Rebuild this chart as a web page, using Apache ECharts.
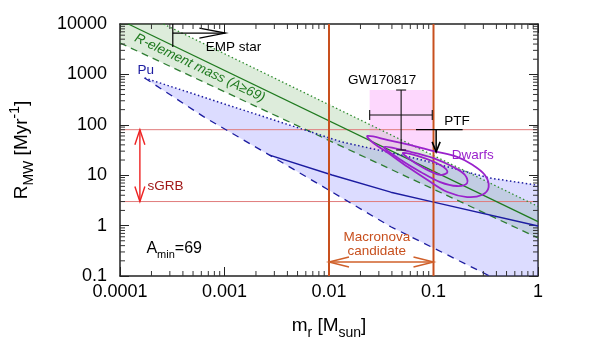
<!DOCTYPE html>
<html><head><meta charset="utf-8">
<script src="https://cdn.jsdelivr.net/npm/echarts@6/dist/echarts.min.js"></script>
<style>html,body{margin:0;padding:0;background:#fff}#c{width:600px;height:360px}</style>
</head><body><div id="c"></div>
<script>
// ---- axis values ----
const xMin = 1e-4, xMax = 1, yMin = 0.1, yMax = 1e4;
const xTickValues = [0.0001, 0.001, 0.01, 0.1, 1];
const xTickLabels = ['0.0001', '0.001', '0.01', '0.1', '1'];
const yTickValues = [0.1, 1, 10, 100, 1000, 10000];
const yTickLabels = ['0.1', '1', '10', '100', '1000', '10000'];

// ---- r-element mass band (A>=69) [mass, rate] ----
const rElemUpper = [[2.6e-4, 10000], [1, 2.4]];
const rElemCenter = [[1.2e-4, 10000], [1, 1.2]];
const rElemLower = [[1e-4, 4200], [1, 0.57]];

// ---- Pu band ----
const puUpper = [[1.72e-4, 850], [1.5e-3, 197], [0.0133, 45.6], [0.065, 22], [0.345, 8.8], [1, 6.3]];
const puLower = [[1.72e-4, 850], [6.3e-4, 145], [2.7e-3, 25], [0.0099, 5.1], [0.039, 0.95], [0.345, 0.1]];
const puMid = [[0.0027, 25], [0.0107, 10.1], [0.039, 4.6], [0.098, 2.95], [1, 0.98]];

// ---- constraints ----
const sgrbRate = [3, 80];
const macronovaMass = [0.01, 0.1];
const gwMass = [0.0245, 0.049, 0.0973];
const gwRate = [31.6, 156, 490];
const ptfMass = [0.068, 0.106, 0.19];
const ptfRate = [80, 29];
const empMass = [3.2e-4, 1.02e-3];
const empRate = [10000, 6600, 3500];

// ---- dwarf galaxy contours ----
const dwarfsOuter = [[0.0233,60],[0.0368,49.9],[0.0607,39.7],[0.100,30.2],[0.168,23.0],[0.238,15.9],[0.310,10.1],[0.337,5.83],[0.290,4.05],[0.210,3.69],[0.136,4.64],[0.0877,8.03],[0.0569,14.5],[0.0368,27.6],[0.0266,43.5]];
const dwarfsMid = [[0.0337,36.3],[0.0607,28.9],[0.100,21.9],[0.155,14.5],[0.200,10.1],[0.210,7.0],[0.168,6.1],[0.116,7.3],[0.0753,11.6],[0.0489,20.0]];
const dwarfsInner = [[0.0511,27.6],[0.0753,23.0],[0.116,15.9],[0.136,11.6],[0.116,10.1],[0.0805,13.9],[0.0569,21.9]];

const FONT = '"Liberation Sans", Arial, Helvetica, sans-serif';
const GREEN = '#1f7a1f', BLUE = '#1c1ca0', ORANGE = '#c8501e', PURPLE = '#9a22cc';

function labelFor(vals, labels) {
  return v => {
    const i = vals.findIndex(t => Math.abs(Math.log10(t) - Math.log10(v)) < 1e-6);
    return i >= 0 ? labels[i] : '';
  };
}

function layer(z, render) {
  return { type: 'custom', coordinateSystem: 'cartesian2d', data: [[0.01, 1]], silent: true, z: z,
    renderItem: (p, api) => render(api) };
}
function L(a, b, color, w, dash) {
  return { type: 'line', shape: { x1: a[0], y1: a[1], x2: b[0], y2: b[1] },
    style: { stroke: color, lineWidth: w, lineDash: dash || null } };
}
function head(tip, from, len, hw, color, w) {
  const dx = tip[0] - from[0], dy = tip[1] - from[1], d = Math.hypot(dx, dy), ux = dx / d, uy = dy / d;
  const bx = tip[0] - ux * len, by = tip[1] - uy * len;
  return { type: 'polyline', shape: { points: [[bx - uy * hw, by + ux * hw], tip, [bx + uy * hw, by - ux * hw]] },
    style: { stroke: color, lineWidth: w, fill: null } };
}
function T(s, pos, color, size, extra, rot) {
  return { type: 'text', x: pos[0], y: pos[1], rotation: rot || 0,
    style: Object.assign({ text: s, fill: color, fontSize: size, fontFamily: FONT, align: 'center', verticalAlign: 'middle' }, extra || {}) };
}

const bandsLayer = layer(1, api => {
  const P = v => api.coord(v);
  const green = [[xMin, yMax]].concat(rElemUpper, rElemLower.slice().reverse()).map(P);
  const blue = puUpper.concat([[xMax, yMin]], puLower.slice().reverse()).map(P);
  const g0 = P([gwMass[0], gwRate[0]]), g1 = P([gwMass[2], gwRate[2]]);
  return { type: 'group', children: [
    { type: 'polygon', shape: { points: green }, style: { fill: 'rgba(100,170,90,0.22)' } },
    { type: 'polygon', shape: { points: blue }, style: { fill: 'rgba(110,110,255,0.24)' } },
    { type: 'rect', shape: { x: g0[0], y: g1[1], width: g1[0] - g0[0], height: g0[1] - g1[1] }, style: { fill: 'rgba(250,160,250,0.42)' } }
  ] };
});

const contourLayer = layer(6, api => {
  const P = v => api.coord(v);
  const mk = arr => ({ type: 'polygon', shape: { points: arr.map(P), smooth: 0.35 }, style: { fill: null, stroke: PURPLE, lineWidth: 1.8 } });
  return { type: 'group', children: [mk(dwarfsOuter), mk(dwarfsMid), mk(dwarfsInner)] };
});

const ticksLayer = layer(8, api => {
  const bl = api.coord([xMin, yMin]), tr = api.coord([xMax, yMax]);
  const ch = [];
  for (let k = -4; k < 0; k++) for (let j = 2; j <= 9; j++) {
    const x = api.coord([j * Math.pow(10, k), 1])[0];
    ch.push(L([x, bl[1]], [x, bl[1] - 5], '#333', 1));
    ch.push(L([x, tr[1]], [x, tr[1] + 5], '#333', 1));
  }
  for (let k = -1; k < 4; k++) for (let j = 2; j <= 9; j++) {
    const y = api.coord([1e-2, j * Math.pow(10, k)])[1];
    ch.push(L([bl[0], y], [bl[0] + 5, y], '#333', 1));
    ch.push(L([tr[0], y], [tr[0] - 5, y], '#333', 1));
  }
  return { type: 'group', children: ch };
});

const annoLayer = layer(7, api => {
  const P = v => api.coord(v);
  const ch = [];
  // sGRB double arrow
  const sg0 = P([1.55e-4, sgrbRate[0]]), sg1 = P([1.55e-4, sgrbRate[1]]);
  ch.push(L(sg0, sg1, '#ee2222', 1.4));
  ch.push(head(sg0, sg1, 15, 5, '#ee2222', 1.4));
  ch.push(head(sg1, sg0, 15, 5, '#ee2222', 1.4));
  // Macronova double arrow
  const mn0 = P([macronovaMass[0], 0.19]), mn1 = P([macronovaMass[1], 0.19]);
  ch.push(L(mn0, mn1, '#d0602a', 1.5));
  ch.push(head(mn0, mn1, 20, 5, '#d0602a', 1.5));
  ch.push(head(mn1, mn0, 20, 5, '#d0602a', 1.5));
  // EMP star limit
  const e0 = P([empMass[0], empRate[0]]), e1 = P([empMass[0], empRate[2]]);
  ch.push(L(e0, e1, '#000', 1.2));
  const ea = P([empMass[0], empRate[1]]), eb = P([empMass[1], empRate[1]]);
  ch.push(L(ea, eb, '#000', 1.3));
  ch.push(head(eb, ea, 26, 5, '#000', 1.3));
  // GW170817 error bars
  const gh0 = P([gwMass[0], gwRate[1]]), gh1 = P([gwMass[2], gwRate[1]]);
  const gv0 = P([gwMass[1], gwRate[0]]), gv1 = P([gwMass[1], gwRate[2]]);
  ch.push(L(gh0, gh1, '#111', 1.1));
  ch.push(L([gh0[0], gh0[1] - 5], [gh0[0], gh0[1] + 5], '#111', 1.1));
  ch.push(L([gh1[0], gh1[1] - 5], [gh1[0], gh1[1] + 5], '#111', 1.1));
  ch.push(L(gv0, gv1, '#111', 1.1));
  ch.push(L([gv0[0] - 5, gv0[1]], [gv0[0] + 5, gv0[1]], '#111', 1.1));
  ch.push(L([gv1[0] - 5, gv1[1]], [gv1[0] + 5, gv1[1]], '#111', 1.1));
  // PTF upper limit
  const p0 = P([ptfMass[0], ptfRate[0]]), p1 = P([ptfMass[2], ptfRate[0]]);
  ch.push(L(p0, p1, '#000', 1.3));
  const pa = P([ptfMass[1], ptfRate[0]]), pb = P([ptfMass[1], ptfRate[1]]);
  ch.push(L(pa, pb, '#000', 1.5));
  ch.push(head(pb, pa, 10, 4, '#000', 1.6));
  // texts
  ch.push(T('EMP star', P([1.22e-3, 3500]), '#000', 13.5));
  ch.push(T('GW170817', P([0.0323, 774]), '#000', 13.5));
  ch.push(T('PTF', P([0.168, 119]), '#000', 13.5));
  ch.push(T('Dwarfs', P([0.238, 25.2]), PURPLE, 13.5));
  ch.push(T('sGRB', P([2.72e-4, 5.97]), '#a01818', 13.5));
  ch.push(T('Macronova', P([0.0287, 0.594]), ORANGE, 13.5));
  ch.push(T('candidate', P([0.0287, 0.313]), ORANGE, 13.5));
  ch.push(T('Pu', P([1.76e-4, 1222]), BLUE, 13.5));
  ch.push(T('R-element mass (A\u226569)', P([5.8e-4, 1340]), GREEN, 13.5, { fontStyle: 'italic' }, -0.443));
  ch.push(T('{n|A}{s|min}{n|=69}', P([3.3e-4, 0.344]), '#000', 16, {
    rich: { n: { fontSize: 16, fontFamily: FONT, fill: '#000', lineHeight: 24, verticalAlign: 'middle' },
            s: { fontSize: 11, fontFamily: FONT, fill: '#000', lineHeight: 24, verticalAlign: 'bottom' } } }));
  return { type: 'group', children: ch };
});

function lineS(data, color, width, type, z) {
  return { type: 'line', data: data, symbol: 'none', silent: true, z: z || 3,
    lineStyle: { color: color, width: width, type: type || 'solid' } };
}

const richName = {
  n: { fontSize: 19, fontFamily: FONT, color: '#000', lineHeight: 28, verticalAlign: 'middle' },
  s: { fontSize: 14, fontFamily: FONT, color: '#000', lineHeight: 28, verticalAlign: 'bottom' },
  u: { fontSize: 14, fontFamily: FONT, color: '#000', lineHeight: 28, verticalAlign: 'top' }
};

const axisCommon = {
  type: 'log', logBase: 10,
  axisLine: { show: true, lineStyle: { color: '#222', width: 1.5 } },
  axisTick: { show: true, inside: true, length: 9, lineStyle: { color: '#222', width: 1 } },
  splitLine: { show: false }, minorTick: { show: false }
};

const chart = echarts.init(document.getElementById('c'), null, { renderer: 'canvas' });
chart.setOption({
  animation: false,
  backgroundColor: '#fff',
  grid: { left: 115, right: 62, top: 24, bottom: 84 },
  xAxis: [
    Object.assign({}, axisCommon, { min: xMin, max: xMax, position: 'bottom',
      axisLabel: { formatter: labelFor(xTickValues, xTickLabels), fontSize: 18, fontFamily: FONT, color: '#000', margin: 7 },
      name: '{n|m}{s|r}{n| [M}{s|sun}{n|]}', nameLocation: 'middle', nameGap: 36, nameTextStyle: { rich: richName } }),
    Object.assign({}, axisCommon, { min: xMin, max: xMax, position: 'top', axisLabel: { show: false } })
  ],
  yAxis: [
    Object.assign({}, axisCommon, { min: yMin, max: yMax, position: 'left',
      axisLabel: { formatter: labelFor(yTickValues, yTickLabels), fontSize: 18, fontFamily: FONT, color: '#000', margin: 13 },
      name: '{n|R}{s|MW}{n| [Myr}{u|-1}{n|]}', nameLocation: 'middle', nameGap: 84, nameRotate: 90, nameTextStyle: { rich: richName } }),
    Object.assign({}, axisCommon, { min: yMin, max: yMax, position: 'right', axisLabel: { show: false } })
  ],
  series: [
    bandsLayer,
    lineS([[xMin, sgrbRate[1]], [xMax, sgrbRate[1]]], '#e07b7b', 1, 'solid', 2),
    lineS([[xMin, sgrbRate[0]], [xMax, sgrbRate[0]]], '#e07b7b', 1, 'solid', 2),
    lineS(rElemUpper, '#2e8b2e', 1.3, [1.5, 2.5]),
    lineS(rElemCenter, GREEN, 1.3),
    lineS(rElemLower, '#2e7d32', 1.3, [7, 5]),
    lineS(puUpper, BLUE, 1.5, [1.5, 2.5]),
    lineS(puLower, BLUE, 1.3, [7, 6]),
    lineS(puMid, BLUE, 1.4),
    lineS([[macronovaMass[0], yMin], [macronovaMass[0], yMax]], ORANGE, 2, 'solid', 5),
    lineS([[macronovaMass[1], yMin], [macronovaMass[1], yMax]], ORANGE, 2, 'solid', 5),
    contourLayer,
    annoLayer,
    ticksLayer
  ]
});
</script></body></html>
